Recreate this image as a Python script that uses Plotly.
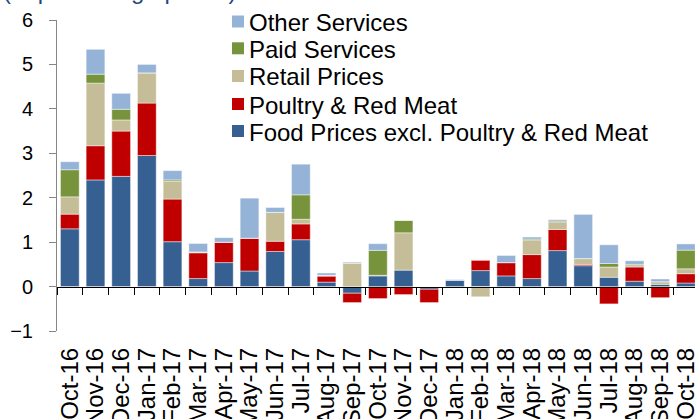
import plotly.graph_objects as go

months = ["Oct-16", "Nov-16", "Dec-16", "Jan-17", "Feb-17", "Mar-17", "Apr-17", "May-17",
          "Jun-17", "Jul-17", "Aug-17", "Sep-17", "Oct-17", "Nov-17", "Dec-17", "Jan-18",
          "Feb-18", "Mar-18", "Apr-18", "May-18", "Jun-18", "Jul-18", "Aug-18", "Sep-18", "Oct-18"]

food_excl_meat = [1.30, 2.40, 2.48, 2.95, 1.01, 0.18, 0.54, 0.35, 0.79, 1.055, 0.10, -0.15, 0.24,
                  0.37, -0.06, 0.15, 0.36, 0.24, 0.18, 0.81, 0.47, 0.21, 0.12, 0.05, 0.08]
poultry_red_meat = [0.33, 0.77, 1.02, 1.18, 0.96, 0.58, 0.46, 0.74, 0.23, 0.355, 0.135, -0.21, -0.27,
                    -0.18, -0.30, 0.0, 0.24, 0.30, 0.54, 0.475, 0.03, -0.39, 0.32, -0.25, 0.21]
retail_prices = [0.39, 1.41, 0.25, 0.68, 0.40, 0.02, 0.0, 0.0, 0.65, 0.105, 0.02, 0.53, 0.015,
                 0.84, 0.0, 0.0, -0.23, 0.0, 0.33, 0.17, 0.13, 0.23, 0.03, 0.06, 0.11]
paid_services = [0.61, 0.20, 0.24, 0.0, 0.03, 0.0, 0.0, 0.0, 0.0, 0.55, 0.0, 0.0, 0.56,
                 0.28, 0.0, 0.0, 0.0, 0.0, 0.02, 0.02, 0.0, 0.08, 0.03, 0.0, 0.42]
other_services = [0.18, 0.56, 0.36, 0.19, 0.21, 0.19, 0.10, 0.90, 0.11, 0.69, 0.05, 0.02, 0.15,
                  0.0, 0.0, 0.01, 0.0, 0.16, 0.045, 0.03, 0.995, 0.42, 0.08, 0.06, 0.14]

series_names = ["Food Prices excl. Poultry & Red Meat", "Poultry & Red Meat", "Retail Prices",
                "Paid Services", "Other Services"]
series_values = [food_excl_meat, poultry_red_meat, retail_prices, paid_services, other_services]
series_colors = ["#376092", "#C00000", "#C4BD97", "#77933C", "#95B3D7"]

FONT = "Liberation Sans, Arial, sans-serif"

M_L, M_T, PLOT_H = 57, 20, 311
W, H = 695, 419
PLOT_W = W - M_L


def px_x(X):
    return (X - M_L) / PLOT_W


def px_y(Y):
    return (M_T + PLOT_H - Y) / PLOT_H


fig = go.Figure()
for name, vals, color in zip(series_names, series_values, series_colors):
    fig.add_trace(go.Bar(
        x=months, y=vals, name=name, showlegend=False,
        marker=dict(color=color, line=dict(color="rgba(255,255,255,0.55)", width=0.8)),
    ))

# helper trace so the zero-line axis carries the same categories
fig.add_trace(go.Scatter(x=months, y=[None] * len(months), xaxis="x2", yaxis="y",
                         mode="markers", showlegend=False, hoverinfo="skip"))

# legend (top entry = last series)
legend_rows_y = [21.5, 48.3, 76.0, 104.0, 131.0]
shapes = []
annotations = []
for row, idx in enumerate(reversed(range(len(series_names)))):
    yc = legend_rows_y[row]
    shapes.append(dict(
        type="rect", xref="paper", yref="paper",
        x0=px_x(232), x1=px_x(244), y0=px_y(yc + 6), y1=px_y(yc - 6),
        fillcolor=series_colors[idx], line=dict(width=0),
    ))
    annotations.append(dict(
        text=series_names[idx], xref="paper", yref="paper",
        x=px_x(247), y=px_y(yc + 1), xanchor="left", yanchor="middle",
        showarrow=False, font=dict(size=24, family=FONT, color="black"),
    ))

annotations.append(dict(
    text="(In percentage points)", xref="paper", yref="paper",
    x=px_x(1), y=px_y(6), xanchor="left", yanchor="bottom",
    showarrow=False, font=dict(size=24, family=FONT, color="#1F497D"),
))

fig.update_layout(
    width=W, height=H,
    margin=dict(l=M_L, r=0, t=M_T, b=H - M_T - PLOT_H, autoexpand=False),
    paper_bgcolor="white", plot_bgcolor="white",
    barmode="relative", bargap=0.27,
    font=dict(family=FONT, color="black"),
    showlegend=False,
    xaxis=dict(
        type="category",
        range=[-0.5, -0.5 + PLOT_W / 25.67],
        tickmode="array", tickvals=months, ticktext=months,
        showline=False, showgrid=False, zeroline=False,
        ticks="", tickangle=-90,
        tickfont=dict(size=24, family=FONT, color="black"),
        ticklabelstandoff=11,
    ),
    xaxis2=dict(
        overlaying="x", matches="x", anchor="free", position=1 / 7,
        showline=True, linecolor="black", linewidth=1.3,
        ticks="outside", tickson="boundaries", ticklen=7, tickcolor="black", tickwidth=1,
        showticklabels=False, showgrid=False, zeroline=False,
    ),
    yaxis=dict(
        range=[-1, 6], dtick=1, tick0=0,
        showline=True, linecolor="#868686", linewidth=1,
        ticks="outside", ticklen=7, tickcolor="#868686",
        showgrid=False, zeroline=False,
        tickfont=dict(size=20, family=FONT, color="black"),
        ticklabelstandoff=12,
    ),
    shapes=shapes,
    annotations=annotations,
)

fig.write_html("out.html", config={"displayModeBar": False},
               post_script="document.body.style.margin='0';")
